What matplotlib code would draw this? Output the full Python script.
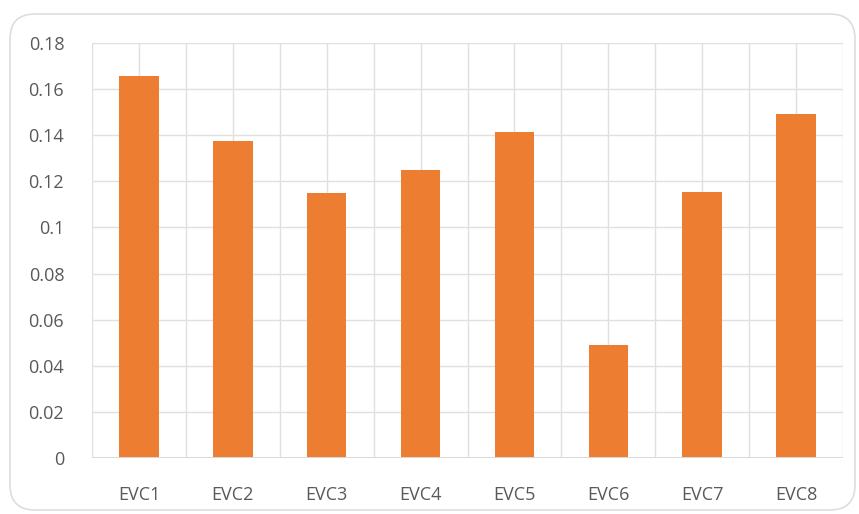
import matplotlib
matplotlib.use("Agg")
import matplotlib.pyplot as plt
from matplotlib.patches import FancyBboxPatch
import numpy as np

# ─── données ────────────────────────────────────────────────────────────────
categories = ["EVC1", "EVC2", "EVC3", "EVC4", "EVC5", "EVC6", "EVC7", "EVC8"]
values = [0.1657, 0.1375, 0.1149, 0.1250, 0.1414, 0.0490, 0.1154, 0.1492]
yticks = [0, 0.02, 0.04, 0.06, 0.08, 0.1, 0.12, 0.14, 0.16, 0.18]
ytick_labels = ["0", "0.02", "0.04", "0.06", "0.08", "0.1", "0.12", "0.14", "0.16", "0.18"]

BAR_COLOR = "#ED7D31"
GRID_COLOR = "#E0E0E0"
TEXT_COLOR = "#595959"

plt.rcParams["font.family"] = ["Open Sans", "DejaVu Sans"]

fig = plt.figure(figsize=(8.59, 5.14), dpi=100)
ax = fig.add_axes([0.1071, 0.1089, 0.8743, 0.8074])

# cadre arrondi autour du graphique
frame = FancyBboxPatch((0.10, 0.04), 8.45, 4.96,
                       boxstyle="round,pad=0,rounding_size=0.25",
                       transform=fig.dpi_scale_trans,
                       facecolor="none", edgecolor="#DDDDDD", linewidth=1.2,
                       zorder=0)
fig.patches.append(frame)

x = np.arange(len(categories))
ax.bar(x, values, width=0.42, color=BAR_COLOR, zorder=3)

ax.set_xlim(-0.5, len(categories) - 0.5)
ax.set_ylim(0, 0.18)

# grilles horizontales et verticales (centres + limites de catégories)
for yv in yticks[1:]:
    ax.axhline(yv, color=GRID_COLOR, linewidth=1.0, zorder=1)
for xv in np.arange(-0.5, len(categories), 0.5):
    ax.axvline(xv, color=GRID_COLOR, linewidth=1.0, zorder=1)
ax.axhline(0, color="#D9D9D9", linewidth=1.4, zorder=4)

ax.set_xticks(x)
ax.set_xticklabels(categories)
ax.set_yticks(yticks)
ax.set_yticklabels(ytick_labels)
ax.tick_params(axis="both", length=0, labelsize=13, colors=TEXT_COLOR)
ax.tick_params(axis="x", pad=20)
ax.tick_params(axis="y", pad=20)

for sp in ax.spines.values():
    sp.set_visible(False)

fig.savefig("out.png", dpi=100)
